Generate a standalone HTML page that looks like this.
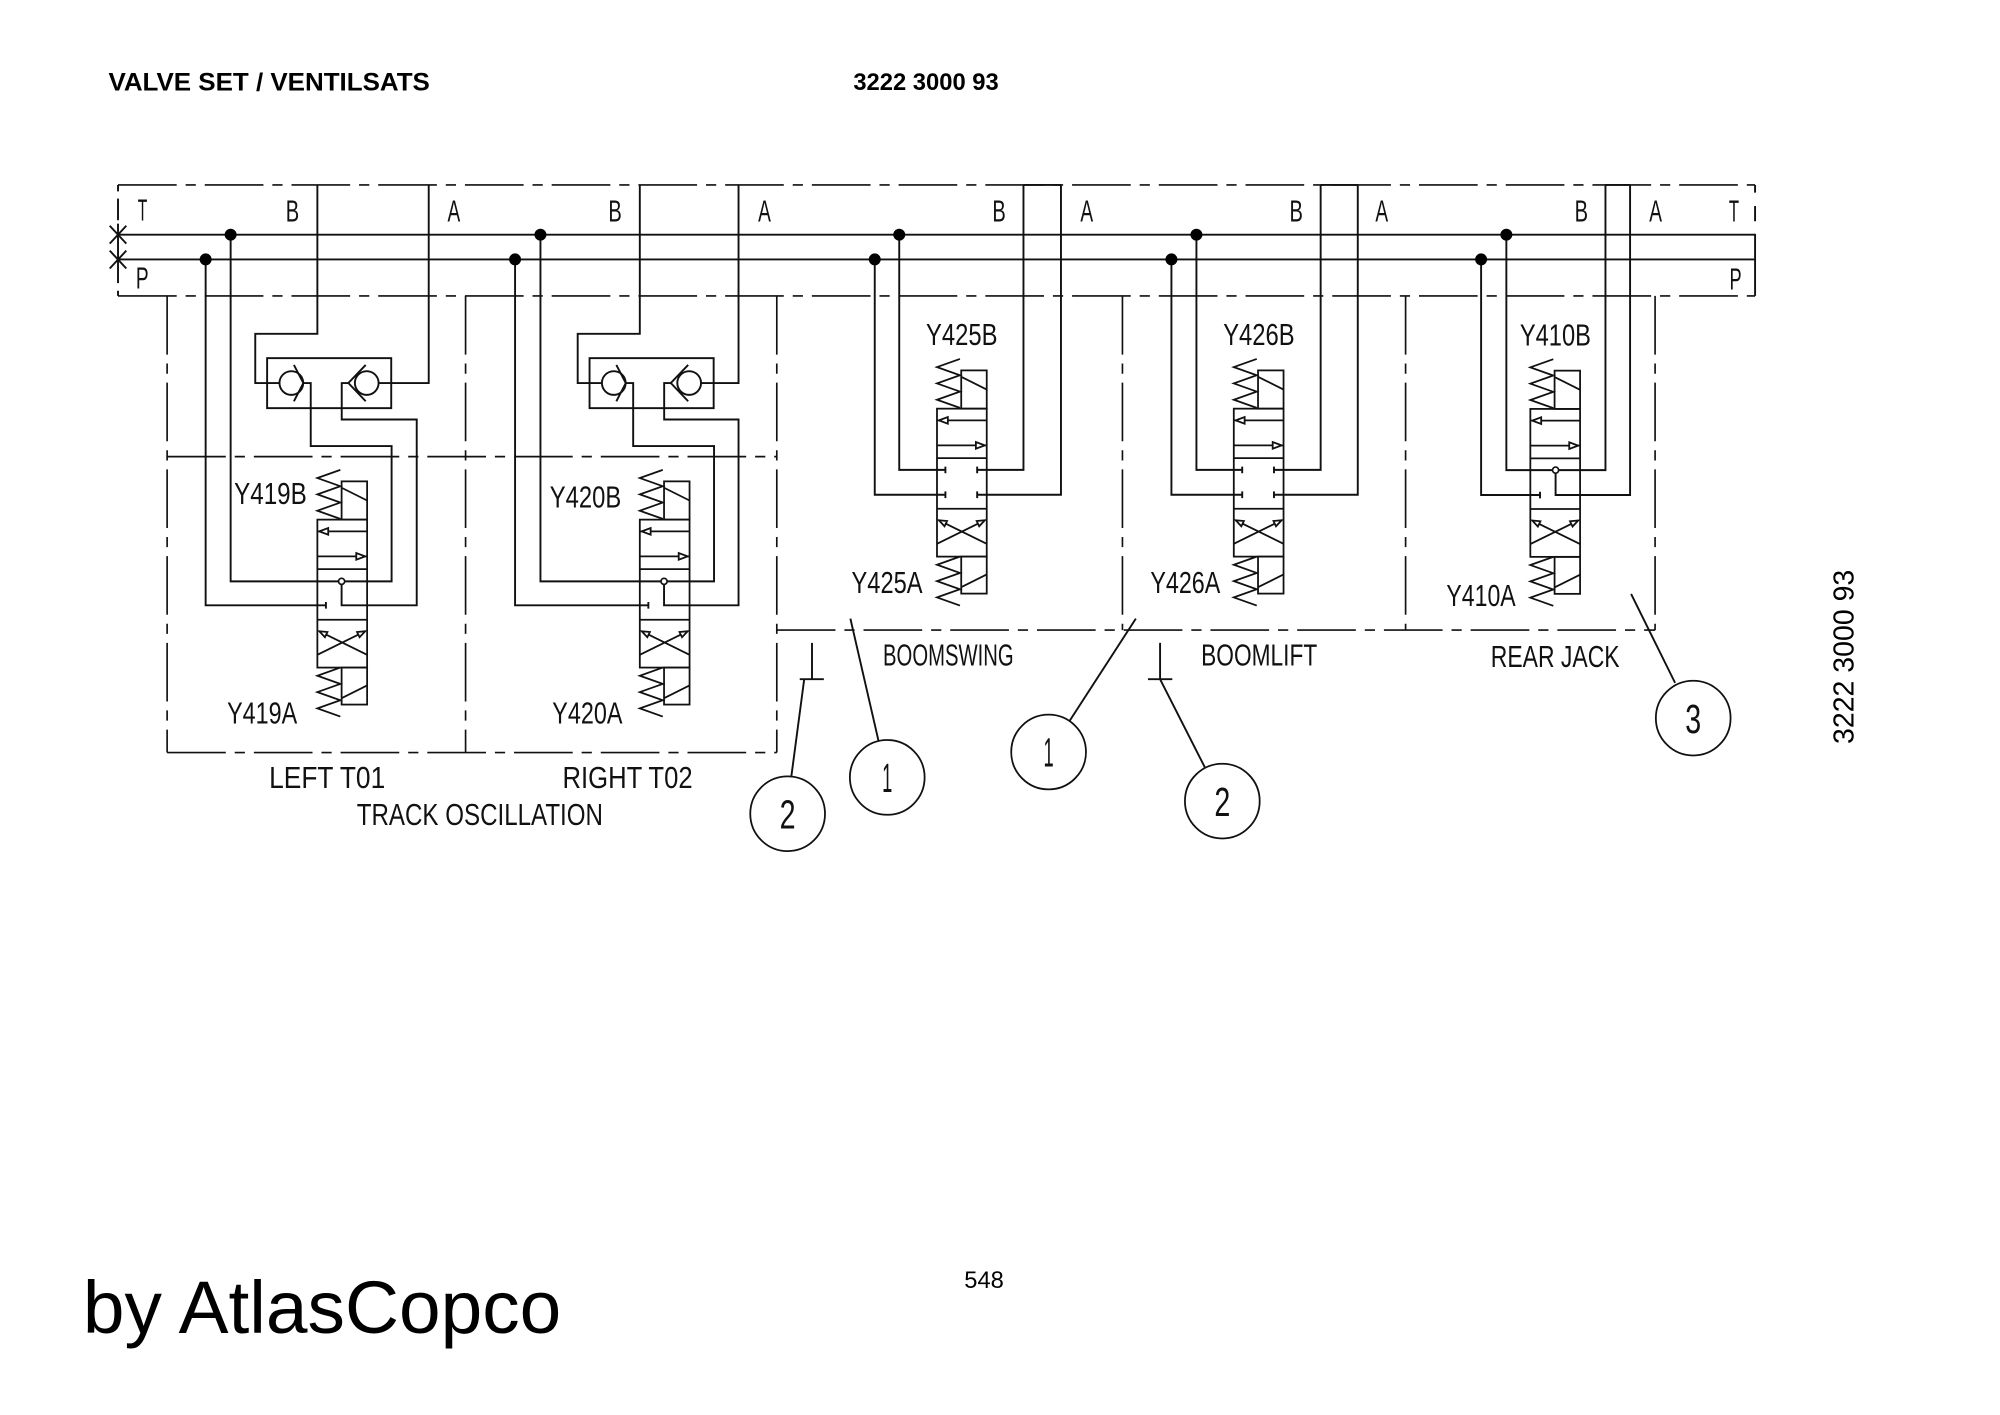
<!DOCTYPE html>
<html><head><meta charset="utf-8"><style>
html,body{margin:0;padding:0;background:#fff;}
svg{display:block;}
.t{font-family:"Liberation Sans",sans-serif;font-size:24px;fill:#111;}
.hb{font-family:"Liberation Sans",sans-serif;font-weight:bold;fill:#000;}
.hn{font-family:"Liberation Sans",sans-serif;fill:#000;}
</style></head><body>
<svg width="2000" height="1415" viewBox="0 0 1568 1109.4" xmlns="http://www.w3.org/2000/svg">
<defs>
<g id="valve" fill="none" stroke="#111" stroke-width="1.4">
 <rect x="19" y="0" width="20" height="30"/>
 <line x1="19" y1="5" x2="39" y2="15"/>
 <polyline points="18,-9 0,-2.6 18,3.8 0,10.2 18,16.6 0,23 18,29.4"/>
 <rect x="0" y="30" width="39" height="116"/>
 <line x1="0" y1="39.2" x2="39" y2="39.2"/>
 <path d="M1.5,39.2 L8.5,36.6 L8.5,41.8 Z" fill="#fff"/>
 <line x1="0" y1="58.8" x2="39" y2="58.8"/>
 <path d="M37.5,58.8 L30.5,56.2 L30.5,61.4 Z" fill="#fff"/>
 <line x1="0" y1="68.8" x2="39" y2="68.8"/>
 <line x1="0" y1="108.5" x2="39" y2="108.5"/>
 <line x1="39" y1="136" x2="1.5" y2="117.5"/>
 <line x1="0" y1="136" x2="37.5" y2="117.5"/>
 <path d="M1.5,117.5 L7.9,118.1 L5.9,122.2 Z" fill="#fff"/>
 <path d="M37.5,117.5 L33.1,122.2 L31.1,118.1 Z" fill="#fff"/>
 <rect x="19" y="146" width="20" height="29"/>
 <line x1="19" y1="170" x2="39" y2="160"/>
 <polyline points="18,146 0,152.4 18,158.8 0,165.2 18,171.6 0,178 18,184.4"/>
</g>
</defs>

<!-- Titles -->
<text class="hb" x="85" y="71" font-size="19.5" textLength="252" lengthAdjust="spacingAndGlyphs">VALVE SET / VENTILSATS</text>
<text class="hb" x="669" y="70.5" font-size="18.6" textLength="114" lengthAdjust="spacingAndGlyphs">3222 3000 93</text>
<text class="hn" x="756" y="1010" font-size="18.6" textLength="31" lengthAdjust="spacingAndGlyphs">548</text>
<text class="hn" x="65" y="1045" font-size="58.5" textLength="375" lengthAdjust="spacingAndGlyphs">by AtlasCopco</text>
<text class="hn" font-size="22.3" text-anchor="middle" textLength="136.6" lengthAdjust="spacingAndGlyphs" transform="translate(1453.3,515) rotate(-90)">3222 3000 93</text>

<!-- Dash-dot boundaries -->
<g fill="none" stroke="#111" stroke-width="1.3" stroke-dasharray="46 7 8 7">
 <path d="M92.5,145 H1376"/>
 <path d="M92.5,232 H1376"/>
 <path d="M131,232 V590"/>
 <path d="M365,232 V590"/>
 <path d="M609,232 V590"/>
 <path d="M131,358 H609"/>
 <path d="M131,590 H609"/>
 <path d="M609,494 H1297.6"/>
 <path d="M880,232 V494"/>
 <path d="M1102,232 V494"/>
 <path d="M1297.6,232 V494"/>
</g>

<!-- Solid hydraulic lines -->
<g fill="none" stroke="#111" stroke-width="1.5">
 <!-- manifold -->
 <path d="M92.5,184 H1376"/>
 <path d="M92.5,203.4 H1376"/>
 <path d="M92.5,145 V150 M92.5,155.7 V172.7 M92.5,175.3 V222 M92.5,228 V232"/>
 <path d="M1376,145 V151 M1376,161.5 V173.5 M1376,183.4 V232"/>
 <path d="M86,177 L99,191 M86,191 L99,177"/>
 <path d="M86,196.5 L99,210.5 M86,210.5 L99,196.5"/>

 <!-- Section 1 -->
 <path d="M248.8,145 V261.7 H200.1 V300.3 H219.1"/>
 <rect x="209.4" y="280.8" width="97.3" height="39.2"/>
 <circle cx="228.4" cy="300.3" r="9.3"/>
 <path d="M230.4,286.1 L237.8,300.3 L230.4,314.6"/>
 <path d="M237.8,300.3 H243.6 V349.7 H307 V455.8 H180.8 V184"/>
 <circle cx="287.5" cy="300.3" r="9.3"/>
 <path d="M286.7,286.1 L273.1,300.3 L286.7,314.6"/>
 <path d="M273.1,300.3 H267.9 V328.9 H326.7 V474.6 H267.8 V455.8"/>
 <path d="M336.1,145 V300.3 H296.8"/>
 <path d="M161.2,203.4 V474.6 H255.5 M255.5,472 V477.2"/>

 <!-- Section 2 -->
 <path d="M501.6,145 V261.7 H452.9 V300.3 H471.9"/>
 <rect x="462.2" y="280.8" width="97.3" height="39.2"/>
 <circle cx="481.2" cy="300.3" r="9.3"/>
 <path d="M483.2,286.1 L490.6,300.3 L483.2,314.6"/>
 <path d="M490.6,300.3 H496.4 V349.7 H559.8 V455.8 H423.7 V184"/>
 <circle cx="540.3" cy="300.3" r="9.3"/>
 <path d="M539.5,286.1 L525.9,300.3 L539.5,314.6"/>
 <path d="M525.9,300.3 H520.7 V328.9 H579 V474.6 H520.6 V455.8"/>
 <path d="M579,145 V300.3 H549.6"/>
 <path d="M403.8,203.4 V474.6 H508.3 M508.3,472 V477.2"/>

 <!-- Section 3 (Y425) -->
 <path d="M705,184 V368.4 H741.2 M741.2,365.8 V371"/>
 <path d="M685.8,203.4 V387.9 H741.2 M741.2,385.3 V390.5"/>
 <path d="M802.4,145 V368.4 H766.1 M766.1,365.8 V371"/>
 <path d="M831.8,145 V387.9 H766.1 M766.1,385.3 V390.5"/>
 <path d="M802.4,145 H831.8"/>

 <!-- Section 4 (Y426) -->
 <path d="M938,184 V368.4 H973.9 M973.9,365.8 V371"/>
 <path d="M918.4,203.4 V387.9 H973.9 M973.9,385.3 V390.5"/>
 <path d="M1035.4,145 V368.4 H998.8 M998.8,365.8 V371"/>
 <path d="M1064.5,145 V387.9 H998.8 M998.8,385.3 V390.5"/>
 <path d="M1035.4,145 H1064.5"/>

 <!-- Section 5 (Y410) -->
 <path d="M1181,184 V368.6 H1258.7 V145"/>
 <path d="M1161.2,203.4 V388.1 H1207.4 M1207.4,385.5 V390.7"/>
 <path d="M1219.6,368.6 V388.1 H1278 V145"/>
 <path d="M1258.7,145 H1278"/>

 <!-- leaders & symbols -->
 <path d="M636.6,504 V532.5 M627,532.5 H645.9 M630.5,532.5 L620.3,609.5"/>
 <path d="M909.5,504 V532.5 M900,532.5 H919.1 M909.5,532.5 L944.7,601.8"/>
 <path d="M666.7,485 L688.7,580.6"/>
 <path d="M890.5,485 L838.7,565"/>
 <path d="M1278.8,465.7 L1313.3,535.4"/>
</g>

<!-- valves -->
<use href="#valve" x="248.8" y="377.4"/>
<use href="#valve" x="501.6" y="377.4"/>
<use href="#valve" x="734.6" y="290.4"/>
<use href="#valve" x="967.3" y="290.4"/>
<use href="#valve" x="1199.8" y="290.6"/>

<!-- small open junction circles -->
<g fill="#fff" stroke="#111" stroke-width="1.3">
 <circle cx="267.8" cy="455.8" r="2.4"/>
 <circle cx="520.6" cy="455.8" r="2.4"/>
 <circle cx="1219.6" cy="368.6" r="2.4"/>
</g>

<!-- junction dots -->
<g fill="#000">
 <circle cx="180.8" cy="184" r="4.7"/>
 <circle cx="423.7" cy="184" r="4.7"/>
 <circle cx="705" cy="184" r="4.7"/>
 <circle cx="938" cy="184" r="4.7"/>
 <circle cx="1181" cy="184" r="4.7"/>
 <circle cx="161.2" cy="203.4" r="4.7"/>
 <circle cx="403.8" cy="203.4" r="4.7"/>
 <circle cx="685.8" cy="203.4" r="4.7"/>
 <circle cx="918.4" cy="203.4" r="4.7"/>
 <circle cx="1161.2" cy="203.4" r="4.7"/>
</g>

<!-- balloons -->
<g fill="none" stroke="#111" stroke-width="1.4">
 <circle cx="617.5" cy="638" r="29.3"/>
 <circle cx="695.6" cy="609.5" r="29.3"/>
 <circle cx="822.1" cy="589.6" r="29.3"/>
 <circle cx="958.3" cy="628.1" r="29.3"/>
 <circle cx="1327.5" cy="563" r="29.3"/>
</g>
<g class="t" font-size="32" text-anchor="middle">
 <text x="617.5" y="649.5" font-size="32" textLength="12.5" lengthAdjust="spacingAndGlyphs">2</text>
 <text x="695.6" y="621" font-size="32" textLength="8" lengthAdjust="spacingAndGlyphs">1</text>
 <text x="822.1" y="601" font-size="32" textLength="8" lengthAdjust="spacingAndGlyphs">1</text>
 <text x="958.3" y="639.6" font-size="32" textLength="12.5" lengthAdjust="spacingAndGlyphs">2</text>
 <text x="1327.5" y="574.5" font-size="32" textLength="12.5" lengthAdjust="spacingAndGlyphs">3</text>
</g>

<!-- port labels -->
<g class="t">
 <text x="108" y="173" textLength="7.5" lengthAdjust="spacingAndGlyphs">T</text>
 <text x="106.5" y="226.3" textLength="10" lengthAdjust="spacingAndGlyphs">P</text>
 <text x="224" y="173.5" textLength="10.5" lengthAdjust="spacingAndGlyphs">B</text>
 <text x="350.8" y="173.5" textLength="10" lengthAdjust="spacingAndGlyphs">A</text>
 <text x="477" y="173.5" textLength="10.5" lengthAdjust="spacingAndGlyphs">B</text>
 <text x="594.4" y="173.5" textLength="10" lengthAdjust="spacingAndGlyphs">A</text>
 <text x="778" y="173.5" textLength="10.5" lengthAdjust="spacingAndGlyphs">B</text>
 <text x="847" y="173.5" textLength="10" lengthAdjust="spacingAndGlyphs">A</text>
 <text x="1011" y="173.5" textLength="10.5" lengthAdjust="spacingAndGlyphs">B</text>
 <text x="1078.3" y="173.5" textLength="10" lengthAdjust="spacingAndGlyphs">A</text>
 <text x="1234.5" y="173.5" textLength="10.5" lengthAdjust="spacingAndGlyphs">B</text>
 <text x="1293" y="173.5" textLength="10" lengthAdjust="spacingAndGlyphs">A</text>
 <text x="1355.5" y="173.5" textLength="8" lengthAdjust="spacingAndGlyphs">T</text>
 <text x="1356" y="227" textLength="9.5" lengthAdjust="spacingAndGlyphs">P</text>

 <text x="183.5" y="395.2" textLength="57" lengthAdjust="spacingAndGlyphs">Y419B</text>
 <text x="431" y="398" textLength="56" lengthAdjust="spacingAndGlyphs">Y420B</text>
 <text x="726" y="270.3" textLength="56" lengthAdjust="spacingAndGlyphs">Y425B</text>
 <text x="959" y="270.3" textLength="56" lengthAdjust="spacingAndGlyphs">Y426B</text>
 <text x="1191.6" y="271" textLength="55.7" lengthAdjust="spacingAndGlyphs">Y410B</text>
 <text x="178" y="567.3" textLength="55" lengthAdjust="spacingAndGlyphs">Y419A</text>
 <text x="433" y="567.3" textLength="55" lengthAdjust="spacingAndGlyphs">Y420A</text>
 <text x="667.6" y="464.8" textLength="55.7" lengthAdjust="spacingAndGlyphs">Y425A</text>
 <text x="901.9" y="464.8" textLength="54.8" lengthAdjust="spacingAndGlyphs">Y426A</text>
 <text x="1134" y="475.3" textLength="54.3" lengthAdjust="spacingAndGlyphs">Y410A</text>

 <text x="211" y="617.8" textLength="91" lengthAdjust="spacingAndGlyphs">LEFT T01</text>
 <text x="441" y="617.8" textLength="102" lengthAdjust="spacingAndGlyphs">RIGHT T02</text>
 <text x="279.7" y="647" textLength="193" lengthAdjust="spacingAndGlyphs">TRACK OSCILLATION</text>
 <text x="692.3" y="521.7" textLength="102.4" lengthAdjust="spacingAndGlyphs">BOOMSWING</text>
 <text x="941.7" y="521.7" textLength="91" lengthAdjust="spacingAndGlyphs">BOOMLIFT</text>
 <text x="1168.8" y="523" textLength="101" lengthAdjust="spacingAndGlyphs">REAR JACK</text>
</g>
</svg>
</body></html>
